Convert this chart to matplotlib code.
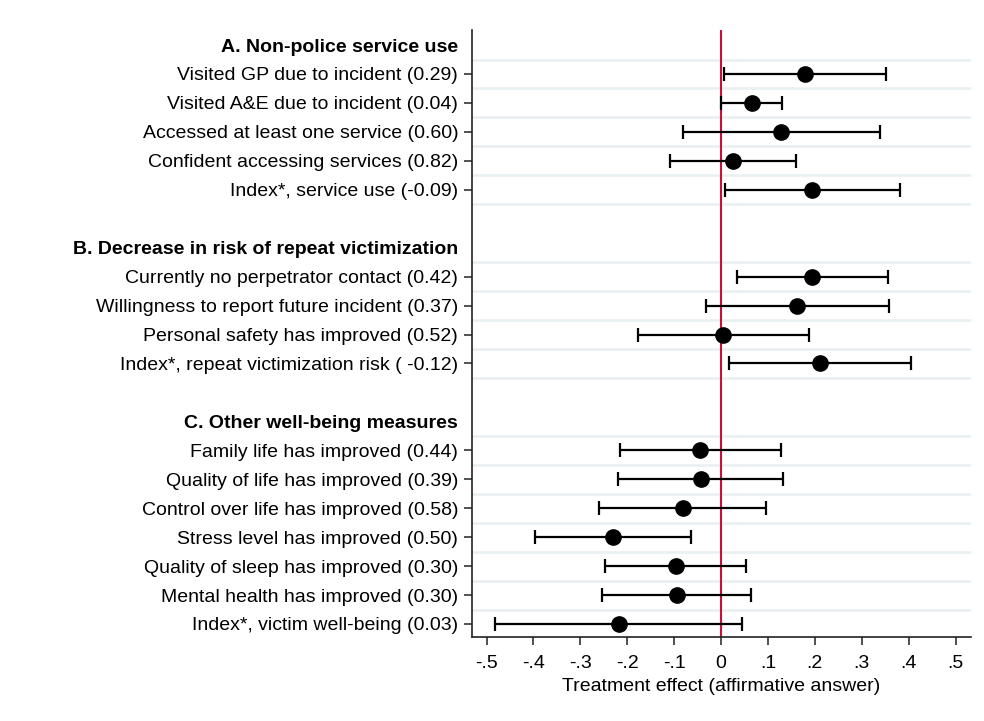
import matplotlib.pyplot as plt
import numpy as np

plt.rcParams["font.family"] = ["Liberation Sans", "DejaVu Sans"]

headings = ["A. Non-police service use",
            "B. Decrease in risk of repeat victimization",
            "C. Other well-being measures"]

labels_a = ["Visited GP due to incident (0.29)",
            "Visited A&E due to incident (0.04)",
            "Accessed at least one service (0.60)",
            "Confident accessing services (0.82)",
            "Index*, service use (-0.09)"]
coef_a = [0.179, 0.065, 0.128, 0.025, 0.195]
lo_a = [0.007, -0.001, -0.082, -0.109, 0.008]
hi_a = [0.352, 0.131, 0.339, 0.159, 0.382]

labels_b = ["Currently no perpetrator contact (0.42)",
            "Willingness to report future incident (0.37)",
            "Personal safety has improved (0.52)",
            "Index*, repeat victimization risk ( -0.12)"]
coef_b = [0.195, 0.163, 0.005, 0.211]
lo_b = [0.033, -0.033, -0.178, 0.016]
hi_b = [0.355, 0.359, 0.188, 0.404]

labels_c = ["Family life has improved (0.44)",
            "Quality of life has improved (0.39)",
            "Control over life has improved (0.58)",
            "Stress level has improved (0.50)",
            "Quality of sleep has improved (0.30)",
            "Mental health has improved (0.30)",
            "Index*, victim well-being (0.03)"]
coef_c = [-0.044, -0.042, -0.082, -0.231, -0.097, -0.094, -0.218]
lo_c = [-0.216, -0.220, -0.260, -0.397, -0.248, -0.253, -0.483]
hi_c = [0.127, 0.133, 0.096, -0.065, 0.054, 0.064, 0.045]

xticks = [-0.5, -0.4, -0.3, -0.2, -0.1, 0, 0.1, 0.2, 0.3, 0.4, 0.5]
xticklabels = ["-.5", "-.4", "-.3", "-.2", "-.1", "0", ".1", ".2", ".3", ".4", ".5"]

groups = [(headings[0], labels_a, coef_a, lo_a, hi_a),
          (headings[1], labels_b, coef_b, lo_b, hi_b),
          (headings[2], labels_c, coef_c, lo_c, hi_c)]

fig = plt.figure(figsize=(9.84, 7.21), dpi=100)
ax = fig.add_axes([0.4797, 0.1165, 0.5071, 0.8419])

# lay out rows top to bottom: heading, items, blank spacer
pos = 1
ytick_pos, ytick_lab, is_head = [], [], []
for head, labs, coef, lo, hi in groups:
    ytick_pos.append(pos)
    ytick_lab.append(head)
    is_head.append(True)
    pos += 1
    ys = np.arange(pos, pos + len(labs))
    for y in ys:
        ax.axhline(y - 0.5, color="#e8f0f2", lw=1.8, zorder=0)
    ax.axhline(ys[-1] + 0.5, color="#e8f0f2", lw=1.8, zorder=0)
    coef = np.array(coef)
    err = [coef - np.array(lo), np.array(hi) - coef]
    ax.errorbar(coef, ys, xerr=err, fmt="o", color="black", ms=11,
                elinewidth=1.6, capsize=4.8, capthick=1.6, zorder=3)
    ytick_pos.extend(ys)
    ytick_lab.extend(labs)
    is_head.extend([False] * len(labs))
    pos += len(labs) + 1

ax.axvline(0, color="#c8103a", lw=1.5, zorder=2)

ax.set_ylim(pos - 2 + 0.45, 0.48)
ax.set_xlim(-0.531, 0.533)

ax.set_yticks(ytick_pos)
ax.set_yticklabels(ytick_lab, fontsize=14)
for t, lab, h in zip(ax.yaxis.get_major_ticks(), ax.get_yticklabels(), is_head):
    if h:
        t.tick1line.set_visible(False)
        lab.set_fontweight("bold")

ax.set_xticks(xticks)
ax.set_xticklabels(xticklabels, fontsize=14)
ax.set_xlabel("Treatment effect (affirmative answer)", fontsize=14, labelpad=4)

ax.tick_params(axis="both", length=6, width=1.2, color="#333333")
ax.tick_params(axis="y", pad=4)
ax.tick_params(axis="x", pad=7)
for s in ["top", "right"]:
    ax.spines[s].set_visible(False)
for s in ["left", "bottom"]:
    ax.spines[s].set_linewidth(1.2)
    ax.spines[s].set_color("#222222")

fig.savefig("out.png", dpi=100)
